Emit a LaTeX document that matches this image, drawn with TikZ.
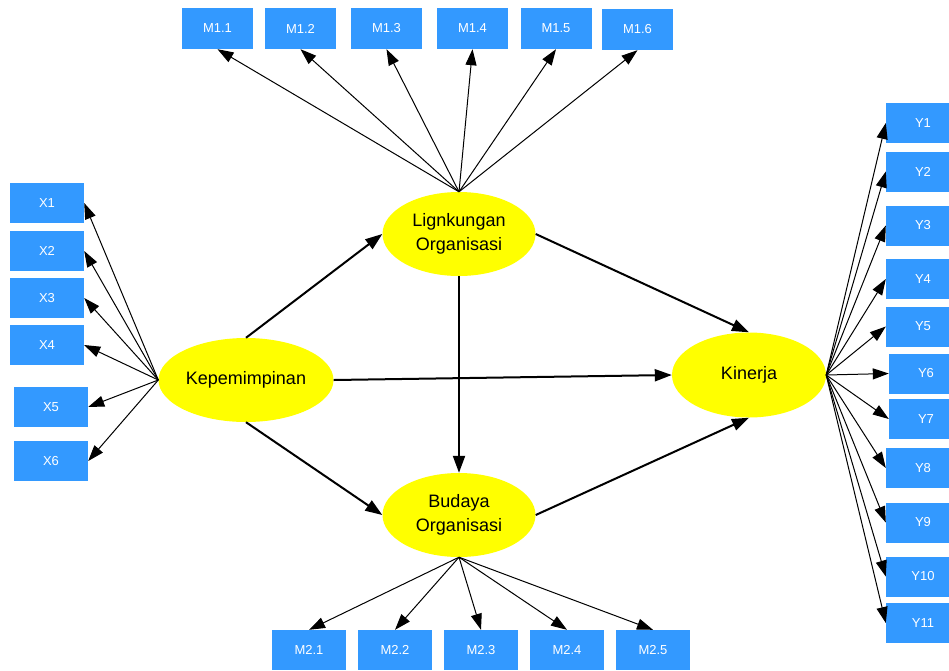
\documentclass[tikz,border=0pt]{standalone}
\usepackage{fontspec}
\setmainfont{Liberation Sans}
\usetikzlibrary{arrows.meta,shapes.geometric}
\definecolor{boxblue}{HTML}{3399FF}
\definecolor{latent}{HTML}{FFFF00}

\begin{document}
\begin{tikzpicture}[
  x=1pt,y=-1pt,
  ind/.style={fill=boxblue,text=white,minimum width=74pt,minimum height=40pt,inner sep=0pt,font=\fontsize{13}{15}\selectfont},
  lat/.style={ellipse,fill=latent,inner sep=0pt,minimum width=153pt,minimum height=84pt,align=center,font=\fontsize{18}{24}\selectfont},
  line/.style={-{Triangle[length=17pt,width=12pt]},line width=2pt},
  load/.style={-{Triangle[length=16pt,width=11pt]},line width=1pt}
]
\useasboundingbox (0,0) rectangle (949,670);
% latent variables
\node[lat,minimum width=175pt] (kep) at (246,380) {Kepemimpinan};
\node[lat] (ling) at (459,234) {Lignkungan\\Organisasi};
\node[lat] (bud) at (459,515) {Budaya\\Organisasi};
\node[lat,minimum width=154pt,minimum height=85pt] (kin) at (749,375) {Kinerja};
% indicators of Kepemimpinan
\node[ind] (x1) at (47,203) {X1};
\node[ind] (x2) at (47,251) {X2};
\node[ind] (x3) at (47,298) {X3};
\node[ind] (x4) at (47,345) {X4};
\node[ind] (x5) at (51,407) {X5};
\node[ind] (x6) at (51,461) {X6};
% indicators of Lignkungan Organisasi
\node[ind,minimum width=71pt,minimum height=41pt] (m11) at (217.5,28.5) {M1.1};
\node[ind,minimum width=71pt,minimum height=41pt] (m12) at (300.5,28.5) {M1.2};
\node[ind,minimum width=71pt,minimum height=41pt] (m13) at (386.5,28.5) {M1.3};
\node[ind,minimum width=71pt,minimum height=41pt] (m14) at (472.5,28.5) {M1.4};
\node[ind,minimum width=71pt,minimum height=41pt] (m15) at (556,28.5) {M1.5};
\node[ind,minimum width=71pt,minimum height=41pt] (m16) at (637.5,29.5) {M1.6};
% indicators of Budaya Organisasi
\node[ind] (m21) at (309,650) {M2.1};
\node[ind] (m22) at (395,650) {M2.2};
\node[ind] (m23) at (481,650) {M2.3};
\node[ind] (m24) at (567,650) {M2.4};
\node[ind] (m25) at (653,650) {M2.5};
% indicators of Kinerja
\node[ind] (y1) at (923,123) {Y1};
\node[ind] (y2) at (923,171.5) {Y2};
\node[ind] (y3) at (923,225.5) {Y3};
\node[ind] (y4) at (923,279) {Y4};
\node[ind] (y5) at (923,326.5) {Y5};
\node[ind] (y6) at (926,373.5) {Y6};
\node[ind] (y7) at (926,419) {Y7};
\node[ind] (y8) at (923,468) {Y8};
\node[ind] (y9) at (923,522.5) {Y9};
\node[ind] (y10) at (923,576.5) {Y10};
\node[ind] (y11) at (923,623) {Y11};
% structural paths
\draw[line] (kep.north)--(ling.west);
\draw[line] (kep.south)--(bud.west);
\draw[line] (kep.east)--(kin.west);
\draw[line] (ling.east)--(kin.north);
\draw[line] (ling.south)--(bud.north);
\draw[line] (bud.east)--(kin.south);
% loadings
\draw[load] (kep.west)--(x1.east);
\draw[load] (kep.west)--(x2.east);
\draw[load] (kep.west)--(x3.east);
\draw[load] (kep.west)--(x4.east);
\draw[load] (kep.west)--(x5.east);
\draw[load] (kep.west)--(x6.east);
\draw[load] (ling.north)--(m11.south);
\draw[load] (ling.north)--(m12.south);
\draw[load] (ling.north)--(m13.south);
\draw[load] (ling.north)--(m14.south);
\draw[load] (ling.north)--(m15.south);
\draw[load] (ling.north)--(m16.south);
\draw[load] (bud.south)--(m21.north);
\draw[load] (bud.south)--(m22.north);
\draw[load] (bud.south)--(m23.north);
\draw[load] (bud.south)--(m24.north);
\draw[load] (bud.south)--(m25.north);
\draw[load] (kin.east)--(y1.west);
\draw[load] (kin.east)--(y2.west);
\draw[load] (kin.east)--(y3.west);
\draw[load] (kin.east)--(y4.west);
\draw[load] (kin.east)--(y5.west);
\draw[load] (kin.east)--(y6.west);
\draw[load] (kin.east)--(y7.west);
\draw[load] (kin.east)--(y8.west);
\draw[load] (kin.east)--(y9.west);
\draw[load] (kin.east)--(y10.west);
\draw[load] (kin.east)--(y11.west);
\end{tikzpicture}
\end{document}
